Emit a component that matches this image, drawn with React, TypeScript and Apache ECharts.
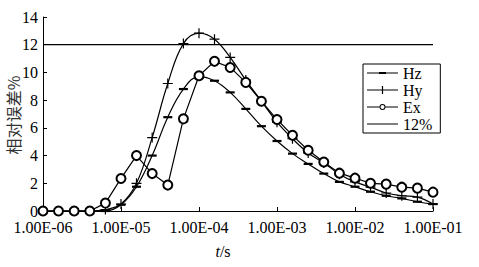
import React, { useEffect, useRef } from "react";
import * as echarts from "echarts";

const times = [
  1.0e-6, 1.58e-6, 2.51e-6, 3.98e-6, 6.31e-6,
  1.0e-5, 1.58e-5, 2.51e-5, 3.98e-5, 6.31e-5,
  1.0e-4, 1.58e-4, 2.51e-4, 3.98e-4, 6.31e-4,
  1.0e-3, 1.58e-3, 2.51e-3, 3.98e-3, 6.31e-3,
  1.0e-2, 1.58e-2, 2.51e-2, 3.98e-2, 6.31e-2,
  1.0e-1,
];

const hz = [
  0, 0, 0, 0, 0,
  0.45, 1.75, 4.0, 6.77, 8.8,
  9.7, 9.4, 8.56, 7.37, 6.12,
  5.05, 4.14, 3.4, 2.7, 2.1,
  1.75, 1.39, 1.1, 0.91, 0.67,
  0.5,
];

const hy = [
  0, 0, 0, 0, 0.1,
  0.5, 2.0, 5.3, 9.2, 12.08,
  12.83, 12.4, 11.08, 9.45, 7.92,
  6.41, 5.22, 4.19, 3.47, 2.66,
  2.1, 1.72, 1.3, 1.1, 1.0,
  0.5,
];

const ex = [
  0, 0, 0, 0, 0.57,
  2.35, 4.0, 2.7, 1.87, 6.65,
  9.76, 10.8, 10.36, 9.28, 7.92,
  6.6, 5.46, 4.38, 3.53, 2.73,
  2.37, 2.0, 1.94, 1.72, 1.65,
  1.36,
];

const limitTimes = [1e-6, 1e-1];
const limitValues = [12, 12];

const seriesNames = ["Hz", "Hy", "Ex", "12%"];

const FONT = "'Liberation Serif', 'Times New Roman', serif";
const PLUS = "path://M4.4,0H5.6V4.4H10V5.6H5.6V10H4.4V5.6H0V4.4H4.4Z";
const DASH = "path://M0,0H9V2.2H0Z";

// legend icons drawn in a 31 x 9 box (tiny corner anchors keep the box)
const ANCH = "M0,0h0.01v0.01z M31,9h-0.01v-0.01z ";
const LINE = "M0,3.9H31V5.1H0Z ";
const ICON_HZ = "path://" + ANCH + LINE + "M12,3.4H19V5.6H12Z";
const ICON_HY = "path://" + ANCH + LINE + "M14.9,0.5H16.1V8.5H14.9Z";
const ICON_EX =
  "path://" + ANCH +
  "M0,3.9H12.5V5.1H0Z M18.5,3.9H31V5.1H18.5Z " +
  "M12.5,4.5A3,3 0 1,0 18.5,4.5A3,3 0 1,0 12.5,4.5Z " +
  "M13.5,4.5A2,2 0 1,1 17.5,4.5A2,2 0 1,1 13.5,4.5Z";
const ICON_LIM = "path://" + ANCH + LINE;
const legendIcons = [ICON_HZ, ICON_HY, ICON_EX, ICON_LIM];

function pairs(xs: number[], ys: number[]) {
  return xs.map((x, i) => [x, ys[i]]);
}

export default function App() {
  const ref = useRef<HTMLDivElement>(null);
  useEffect(() => {
    if (!ref.current) return;
    const chart = echarts.init(ref.current, undefined, { renderer: "svg" });
    const lineStyle = { color: "#000", width: 1.2 };
    chart.setOption({
      animation: false,
      backgroundColor: "#fff",
      grid: { left: 43, right: 46, top: 17, bottom: 56 },
      xAxis: {
        type: "log",
        logBase: 10,
        min: 1e-6,
        max: 1e-1,
        axisLine: { show: true, lineStyle: { color: "#000", width: 1 } },
        axisTick: { show: true, inside: true, length: 4, lineStyle: { color: "#000" } },
        minorTick: { show: false },
        splitLine: { show: false },
        axisLabel: {
          color: "#000",
          fontSize: 16,
          fontFamily: FONT,
          margin: 8,
          formatter: (v: number) => {
            const e = Math.round(Math.log10(v));
            return "1.00E" + (e < 0 ? "-" : "+") + String(Math.abs(e)).padStart(2, "0");
          },
        },
      },
      yAxis: {
        type: "value",
        min: 0,
        max: 14,
        interval: 2,
        axisLine: { show: true, lineStyle: { color: "#000", width: 1 } },
        axisTick: { show: true, inside: true, length: 4, lineStyle: { color: "#000" } },
        splitLine: { show: false },
        axisLabel: { color: "#000", fontSize: 16, fontFamily: FONT, margin: 5 },
      },
      legend: {
        orient: "vertical",
        left: 363,
        top: 64,
        padding: [1, 8, 1, 4],
        itemWidth: 31,
        itemHeight: 9,
        itemGap: 1,
        borderColor: "#000",
        borderWidth: 1,
        borderRadius: 0,
        backgroundColor: "#fff",
        textStyle: { color: "#000", fontSize: 16, fontFamily: FONT, lineHeight: 16 },
        data: seriesNames.map((n, i) => ({
          name: n,
          icon: legendIcons[i],
          itemStyle: { color: "#000", borderWidth: 0 },
        })),
      },
      graphic: [
        {
          type: "text",
          x: 223,
          y: 251,
          style: {
            text: "{i|t}/s",
            fontSize: 16,
            fontFamily: FONT,
            fill: "#000",
            align: "center",
            verticalAlign: "middle",
            rich: { i: { fontStyle: "italic", fontSize: 16, fontFamily: FONT } },
          },
        },
        {
          type: "text",
          x: 13,
          y: 115,
          rotation: Math.PI / 2,
          style: {
            text: "相对误差%",
            fontSize: 16,
            fontFamily: "Noto Sans CJK SC",
            fill: "#333",
            align: "center",
            verticalAlign: "middle",
          },
        },
      ],
      series: [
        {
          name: seriesNames[0],
          type: "line",
          data: pairs(times, hz),
          smooth: 0.4,
          symbol: DASH,
          symbolSize: 9,
          symbolKeepAspect: true,
          showAllSymbol: true,
          lineStyle,
          itemStyle: { color: "#000" },
        },
        {
          name: seriesNames[1],
          type: "line",
          data: pairs(times, hy),
          smooth: 0.4,
          symbol: PLUS,
          symbolSize: 10,
          showAllSymbol: true,
          lineStyle,
          itemStyle: { color: "#000" },
        },
        {
          name: seriesNames[2],
          type: "line",
          data: pairs(times, ex),
          smooth: false,
          symbol: "emptyCircle",
          symbolSize: 9,
          showAllSymbol: true,
          lineStyle,
          itemStyle: { color: "#000", borderColor: "#000", borderWidth: 0.9 },
        },
        {
          name: seriesNames[3],
          type: "line",
          data: pairs(limitTimes, limitValues),
          symbol: "none",
          lineStyle,
          itemStyle: { color: "#000" },
        },
      ],
    });
    return () => chart.dispose();
  }, []);
  return (
    <div
      ref={ref}
      style={{ position: "absolute", left: 0, top: 0, width: 479, height: 267 }}
    />
  );
}
